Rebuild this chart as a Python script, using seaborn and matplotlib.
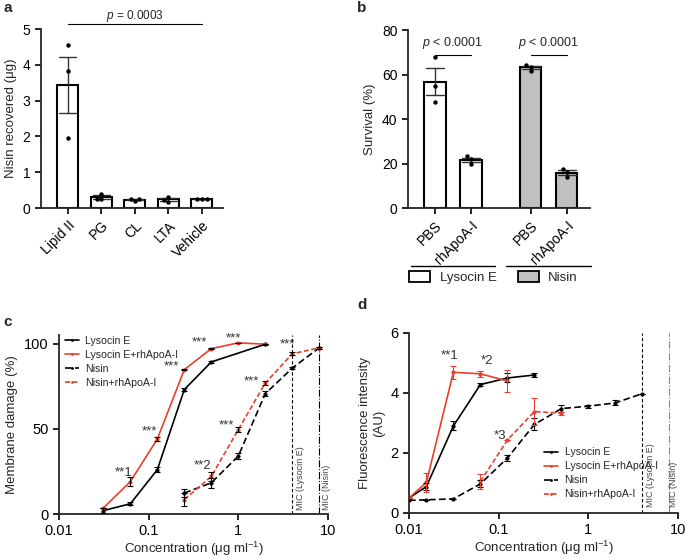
import numpy as np
import pandas as pd
import seaborn as sns
import matplotlib
matplotlib.use("Agg")
import matplotlib.pyplot as plt
from matplotlib.patches import Patch
from matplotlib.lines import Line2D
from matplotlib.ticker import NullLocator

# ---------------------------------------------------------------------------
# Data
# ---------------------------------------------------------------------------
# (a) nisin recovered per lipid, three replicates each
a_samples = ["Lipid II", "PG", "CL", "LTA", "Vehicle"]
a_reps = [[4.55, 3.82, 1.95], [0.40, 0.25, 0.25], [0.26, 0.19, 0.25],
          [0.32, 0.17, 0.23], [0.25, 0.24, 0.25]]
a_pval = "0.0003"

# (b) survival, three replicates each
b_labels = ["PBS", "rhApoA-I", "PBS", "rhApoA-I"]
b_drugs = ["Lysocin E", "Lysocin E", "Nisin", "Nisin"]
b_reps = [[68.0, 54.9, 47.5], [23.2, 22.0, 19.9],
          [64.5, 63.5, 61.5], [17.5, 16.4, 13.9]]
b_pvals = ["< 0.0001", "< 0.0001"]

# (c) membrane damage (%), mean and SEM
c_lyso_x = [0.03125, 0.0625, 0.125, 0.25, 0.5, 2]
c_lyso_y = [2, 6, 26, 73, 89.2, 99.6]
c_lyso_e = [1.5, 1, 1.5, 1, 0.5, 0.3]
c_lapo_x = [0.03125, 0.0625, 0.125, 0.25, 0.5, 1, 2]
c_lapo_y = [3.5, 19, 44, 84.7, 97, 100.4, 99.6]
c_lapo_e = [0, 2.5, 1, 0.5, 0.3, 0, 0]
c_nis_x = [0.25, 0.5, 1, 2, 4, 8]
c_nis_y = [12.3, 18.3, 34, 70.6, 85.6, 97.5]
c_nis_e = [2.5, 3, 1.5, 1.5, 0.5, 0.5]
c_napo_x = [0.25, 0.5, 1, 2, 4, 8]
c_napo_y = [8.5, 22, 49.5, 76.8, 94, 97.5]
c_napo_e = [4, 2.5, 1.5, 1, 1, 0.5]
c_stars = [("**1", 0.052, 24), ("***", 0.101, 48.5), ("***", 0.179, 86.7),
           ("***", 0.37, 100.8), ("***", 0.89, 102.7), ("**2", 0.404, 28),
           ("***", 0.735, 51.8), ("***", 1.40, 77.9), ("***", 3.49, 99.4)]

# (d) fluorescence intensity (AU), mean and SEM
d_lyso_x = [0.01, 0.015625, 0.03125, 0.0625, 0.125, 0.25]
d_lyso_y = [0.5, 0.88, 2.9, 4.28, 4.5, 4.6]
d_lyso_e = [0, 0.12, 0.15, 0.05, 0.15, 0.06]
d_lapo_x = [0.01, 0.015625, 0.03125, 0.0625, 0.125]
d_lapo_y = [0.5, 1.02, 4.69, 4.64, 4.4]
d_lapo_e = [0, 0.32, 0.22, 0.1, 0.36]
d_nis_x = [0.01, 0.015625, 0.03125, 0.0625, 0.125, 0.25, 0.5, 1, 2, 4]
d_nis_y = [0.42, 0.44, 0.47, 0.97, 1.83, 2.95, 3.48, 3.56, 3.67, 3.98]
d_nis_e = [0, 0, 0, 0.12, 0.1, 0.2, 0.13, 0.05, 0.08, 0]
d_napo_x = [0.0625, 0.125, 0.25, 0.5]
d_napo_y = [1.05, 2.43, 3.38, 3.33]
d_napo_e = [0.25, 0, 0.45, 0.05]
d_stars = [("**1", 0.0287, 5.22), ("*2", 0.0736, 5.06), ("*3", 0.104, 2.56)]

MIC_LYSO, MIC_NIS = 4, 8

# ---------------------------------------------------------------------------
# Style
# ---------------------------------------------------------------------------
sns.set_style("ticks")
plt.rcParams["font.family"] = ["Liberation Sans", "DejaVu Sans"]
plt.rcParams["mathtext.fontset"] = "custom"
plt.rcParams["mathtext.rm"] = "Liberation Sans"
plt.rcParams["mathtext.it"] = "Liberation Sans:italic"
plt.rcParams["axes.linewidth"] = 1.3
plt.rcParams["xtick.major.width"] = 1.2
plt.rcParams["ytick.major.width"] = 1.2
plt.rcParams["xtick.major.size"] = 4
plt.rcParams["ytick.major.size"] = 4
plt.rcParams["xtick.color"] = "black"
plt.rcParams["ytick.color"] = "black"

RED = "#e8402c"
SERIES = ["Lysocin E", "Lysocin E+rhApoA-I", "Nisin", "Nisin+rhApoA-I"]
PAL = dict(zip(SERIES, ["black", RED, "black", RED]))
DASHES = dict(zip(SERIES, ["", "", (4, 2), (3, 1.5)]))
MARKERS = dict(zip(SERIES, ["o"] * 4))
XLAB = r"Concentration (μg ml$^{\mathregular{-1}}$)"

fig = plt.figure(figsize=(6.85, 5.59), dpi=100)
ax_a = fig.add_axes([0.0599, 0.6279, 0.2657, 0.3202])
ax_b = fig.add_axes([0.5956, 0.6279, 0.2657, 0.3184])
ax_c = fig.add_axes([0.0861, 0.0805, 0.3927, 0.3202])
ax_d = fig.add_axes([0.5971, 0.0823, 0.3927, 0.3220])

# ---------------------------------------------------------------------------
# (a)
# ---------------------------------------------------------------------------
df_a = pd.DataFrame([(s, v) for s, reps in zip(a_samples, a_reps) for v in reps],
                    columns=["sample", "value"])
sns.barplot(data=df_a, x="sample", y="value", order=a_samples, ax=ax_a,
            errorbar="se", capsize=0.5, color="white", saturation=1,
            edgecolor="black", linewidth=1.5, width=0.63,
            err_kws={"color": "#333333", "linewidth": 1})
sns.swarmplot(data=df_a, x="sample", y="value", order=a_samples, ax=ax_a,
              color="black", size=3.2)
ax_a.set_xlim(-0.8, 4.63)
ax_a.set_ylim(0, 5)
ax_a.set_yticks([0, 1, 2, 3, 4, 5])
ax_a.set_xticks(range(len(a_samples)))
ax_a.set_xticklabels(a_samples, rotation=45, ha="right", rotation_mode="anchor")
ax_a.set_xlabel("")
ax_a.set_ylabel("Nisin recovered (μg)", fontsize=9.5)
ax_a.tick_params(labelsize=10)
ax_a.plot([0, len(a_samples) - 1], [5.14, 5.14], color="black", lw=0.8, clip_on=False)
ax_a.text((len(a_samples) - 1) / 2, 5.37, rf"$p$ = {a_pval}", ha="center", va="center",
          fontsize=8.5)
sns.despine(ax=ax_a)

# ---------------------------------------------------------------------------
# (b)
# ---------------------------------------------------------------------------
b_pos = [0, 1, 2.65, 3.65]
df_b = pd.DataFrame([(p, d, v) for p, d, reps in zip(b_pos, b_drugs, b_reps) for v in reps],
                    columns=["pos", "drug", "value"])
b_pal = {"Lysocin E": "white", "Nisin": "#c0c0c0"}
sns.barplot(data=df_b, x="pos", y="value", hue="drug", palette=b_pal, native_scale=True,
            dodge=False, ax=ax_b, errorbar="se", capsize=0.5, saturation=1,
            edgecolor="black", linewidth=1.5, width=0.6, legend=False,
            err_kws={"color": "#333333", "linewidth": 1})
sns.swarmplot(data=df_b, x="pos", y="value", native_scale=True, ax=ax_b,
              color="black", size=3.2)
ax_b.set_xlim(-0.75, 4.3)
ax_b.set_ylim(0, 80)
ax_b.set_yticks([0, 20, 40, 60, 80])
ax_b.set_xticks(b_pos)
ax_b.set_xticklabels(b_labels, rotation=45, ha="right", rotation_mode="anchor")
ax_b.set_xlabel("")
ax_b.set_ylabel("Survival (%)", fontsize=9.5)
ax_b.tick_params(labelsize=10)
for i, pv in enumerate(b_pvals):
    x0, x1 = b_pos[2 * i], b_pos[2 * i + 1]
    ax_b.plot([x0, x1], [68.8, 68.8], color="black", lw=0.8)
    ax_b.text((x0 + x1) / 2, 74, rf"$p$ {pv}", ha="center", va="center", fontsize=9)
trans = ax_b.get_xaxis_transform()
for i in range(2):
    x0, x1 = b_pos[2 * i] - 0.67, b_pos[2 * i + 1] + 0.67
    ax_b.plot([x0, x1], [-0.326, -0.326], color="black", lw=1, transform=trans, clip_on=False)
handles = [Patch(facecolor=b_pal[k], edgecolor="black", linewidth=1.3, label=k) for k in b_pal]
ax_b.legend(handles=handles, loc="center", bbox_to_anchor=(0.47, -0.393), ncol=2,
            frameon=False, fontsize=9.5, handlelength=1.6, handleheight=0.9,
            columnspacing=1.6, handletextpad=0.7)
sns.despine(ax=ax_b)


# ---------------------------------------------------------------------------
# (c), (d) helpers
# ---------------------------------------------------------------------------
def long_df(series):
    rows = []
    for name, (xs, ys, es) in series.items():
        for x, y, e in zip(xs, ys, es):
            rows.append((name, x, y, e))
    return pd.DataFrame(rows, columns=["series", "conc", "value", "sem"])


def curve_panel(ax, df, err_colors):
    ax.set_xscale("log")
    sns.lineplot(data=df, x="conc", y="value", hue="series", style="series",
                 hue_order=SERIES, style_order=SERIES, palette=PAL, dashes=DASHES,
                 markers=MARKERS, markersize=3, markeredgewidth=0, linewidth=1.2,
                 estimator=None, sort=True, legend=False, ax=ax)
    for name, g in df.groupby("series", sort=False):
        ax.errorbar(g["conc"], g["value"], yerr=g["sem"], fmt="none", ecolor=err_colors[name],
                    elinewidth=0.8, capsize=2, capthick=0.8, zorder=3)
    ax.set_xlim(0.01, 10)
    ax.set_xticks([0.01, 0.1, 1, 10])
    ax.set_xticklabels(["0.01", "0.1", "1", "10"])
    ax.xaxis.set_minor_locator(NullLocator())
    ax.set_xlabel(XLAB, fontsize=9.5, labelpad=1)
    ax.tick_params(labelsize=10.5)
    sns.despine(ax=ax)


def curve_legend(ax, anchor):
    hs = [Line2D([], [], color=PAL[s], lw=1.2,
                 dashes=DASHES[s] if DASHES[s] else (None, None),
                 marker="o", markersize=2, markeredgewidth=0, label=s) for s in SERIES]
    for h, s in zip(hs, SERIES):
        if not DASHES[s]:
            h.set_linestyle("-")
    ax.legend(handles=hs, loc="upper left", bbox_to_anchor=anchor, frameon=False,
              fontsize=7.6, handlelength=1.3, labelspacing=0.38, handletextpad=0.6,
              borderaxespad=0.2)


# ---------------------------------------------------------------------------
# (c)
# ---------------------------------------------------------------------------
df_c = long_df({
    "Lysocin E": (c_lyso_x, c_lyso_y, c_lyso_e),
    "Lysocin E+rhApoA-I": (c_lapo_x, c_lapo_y, c_lapo_e),
    "Nisin": (c_nis_x, c_nis_y, c_nis_e),
    "Nisin+rhApoA-I": (c_napo_x, c_napo_y, c_napo_e),
})
curve_panel(ax_c, df_c, dict(zip(SERIES, ["black"] * 4)))
ax_c.set_ylim(0, 105)
ax_c.set_yticks([0, 50, 100])
ax_c.set_ylabel("Membrane damage (%)", fontsize=9.5)
ax_c.axvline(MIC_LYSO, color="black", ls=(0, (3, 2)), lw=0.8)
ax_c.axvline(MIC_NIS, color="black", ls="-.", lw=0.8)
ax_c.text(MIC_LYSO * 1.22, 2.5, "MIC (Lysocin E)", rotation=90, ha="center", va="bottom",
          fontsize=6.5, color="#444444")
ax_c.text(MIC_NIS * 1.2, 2.5, "MIC (Nisin)", rotation=90, ha="center", va="bottom",
          fontsize=6.5, color="#444444", clip_on=False)
for txt, x, y in c_stars:
    ax_c.text(x, y, txt, ha="center", va="center", fontsize=9.5, color="#333333")
curve_legend(ax_c, (0.0, 1.03))

# ---------------------------------------------------------------------------
# (d)
# ---------------------------------------------------------------------------
df_d = long_df({
    "Lysocin E": (d_lyso_x, d_lyso_y, d_lyso_e),
    "Lysocin E+rhApoA-I": (d_lapo_x, d_lapo_y, d_lapo_e),
    "Nisin": (d_nis_x, d_nis_y, d_nis_e),
    "Nisin+rhApoA-I": (d_napo_x, d_napo_y, d_napo_e),
})
curve_panel(ax_d, df_d, PAL)
ax_d.set_ylim(0, 6)
ax_d.set_yticks([0, 2, 4, 6])
ax_d.set_ylabel("Fluorescence intensity\n(AU)", fontsize=9.5)
ax_d.axvline(MIC_LYSO, color="black", ls=(0, (3, 2)), lw=0.8)
ax_d.axvline(MIC_NIS, color="#888888", ls="-.", lw=0.8)
ax_d.text(MIC_LYSO * 1.23, 0.2, "MIC (Lysocin E)", rotation=90, ha="center", va="bottom",
          fontsize=6.5, color="#444444")
ax_d.text(MIC_NIS * 1.12, 0.2, "MIC (Nisin)", rotation=90, ha="center", va="bottom",
          fontsize=6.5, color="#444444", clip_on=False)
for txt, x, y in d_stars:
    ax_d.text(x, y, txt, ha="center", va="center", fontsize=9.5, color="#333333")
curve_legend(ax_d, (0.48, 0.40))

# panel letters
for lab, x, y in [("a", 3, 8), ("b", 357, 8), ("c", 3, 322), ("d", 357, 305)]:
    fig.text(x / 685, 1 - y / 559, lab, fontsize=11, fontweight="bold", va="center", ha="left")

fig.savefig("out.png", dpi=100)
